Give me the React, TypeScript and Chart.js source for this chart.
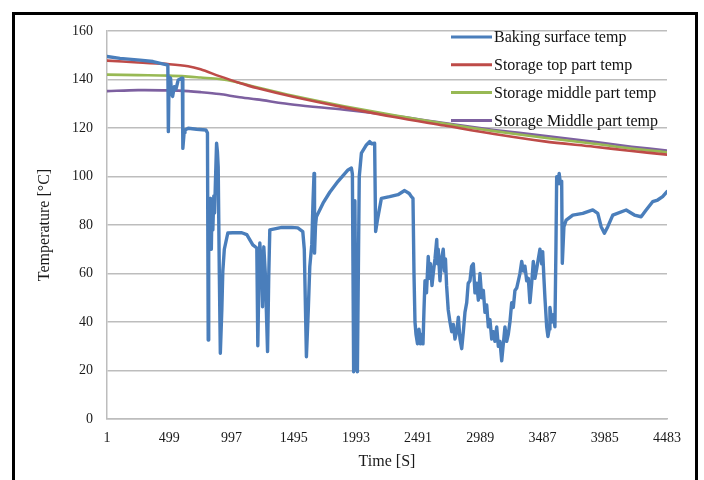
import React, { useEffect, useRef } from "react";
import { Chart, registerables } from "chart.js";

Chart.register(...registerables);

// ---------- DATA ----------
const xTickValues = [1, 499, 997, 1495, 1993, 2491, 2989, 3487, 3985, 4483];
const yTickMax = 160;
const yTickStep = 20;

const seriesLabels = [
  "Baking surface temp",
  "Storage top part temp",
  "Storage middle part temp",
  "Storage Middle part temp",
];

// [time (s), temperature (°C)]
const bakingSamples: [number, number][] = [
  [1, 149.5], [105, 148.7], [265, 148], [369, 147.4], [481, 146], [488, 146], [492, 118.5], [498, 141],
  [510, 140.5], [518, 134], [526, 133], [540, 137], [553, 136], [571, 139.8], [598, 140.5], [604, 140.5],
  [608, 111.6], [618, 118], [625, 119.2], [651, 119.9], [718, 119.5], [792, 119.2], [805, 118], [811, 32.6],
  [815, 70], [820, 88], [824, 72], [830, 91], [836, 70], [842, 90], [848, 78], [856, 92], [862, 85],
  [870, 100], [878, 113.7], [885, 110], [891, 104], [900, 60], [908, 27.1], [920, 45], [928, 61], [940, 70],
  [968, 76.7], [1006, 76.8], [1080, 76.8], [1120, 76], [1168, 71.8], [1200, 70.5], [1208, 30.2], [1216, 55],
  [1224, 72.6], [1240, 60], [1246, 46.3], [1256, 71], [1268, 60], [1286, 27.8], [1296, 60], [1304, 78],
  [1400, 79], [1480, 79], [1528, 78.8], [1568, 77.3], [1580, 70], [1597, 25.7], [1612, 45], [1624, 62.8],
  [1640, 72], [1650, 90], [1658, 101.3], [1662, 68.4], [1670, 80], [1677, 83.4], [1730, 89], [1784, 93.5],
  [1850, 98], [1930, 102.7], [1957, 103.5], [1965, 101], [1975, 19.5], [1985, 90], [1995, 21], [2005, 19.5],
  [2020, 100], [2037, 109.6], [2077, 113], [2103, 114.4], [2120, 113.5], [2143, 113.7], [2151, 77.3],
  [2165, 82], [2197, 91], [2263, 91.7], [2330, 92.5], [2383, 94.2], [2420, 93], [2437, 91.7], [2450, 91],
  [2458, 60], [2466, 40], [2474, 35], [2486, 31], [2498, 37], [2510, 31], [2522, 35], [2530, 31], [2538, 45],
  [2546, 57], [2558, 52], [2572, 67], [2582, 58], [2590, 64], [2602, 55], [2612, 60], [2626, 66], [2640, 74],
  [2646, 64], [2652, 70], [2666, 57], [2678, 66], [2692, 70], [2702, 61], [2710, 66], [2719, 55], [2732, 45],
  [2746, 40], [2760, 36], [2773, 39], [2786, 33], [2800, 36], [2813, 42], [2826, 33], [2840, 29], [2853, 36],
  [2866, 44], [2880, 48], [2892, 56], [2906, 57], [2919, 63], [2933, 64], [2946, 52], [2960, 56], [2973, 49],
  [2986, 60], [3000, 50], [3013, 53], [3026, 44], [3040, 47], [3053, 38], [3066, 41], [3080, 33], [3093, 36],
  [3106, 32], [3120, 38], [3133, 30], [3146, 32], [3160, 24], [3173, 31], [3186, 38], [3200, 32], [3213, 35],
  [3226, 40], [3240, 48], [3253, 46], [3266, 53], [3280, 54], [3293, 57], [3306, 60], [3320, 65], [3333, 61],
  [3346, 63], [3360, 57], [3373, 58], [3386, 48], [3400, 56], [3413, 65], [3426, 58], [3440, 62], [3453, 66],
  [3466, 70], [3480, 64], [3488, 69], [3498, 58], [3506, 50], [3520, 38], [3530, 34], [3540, 37], [3546, 46],
  [3560, 40], [3573, 43], [3586, 38], [3594, 70], [3600, 99.9], [3610, 97], [3620, 101.3], [3630, 97],
  [3640, 98], [3645, 64.2], [3658, 79.3], [3676, 82], [3729, 84.1], [3809, 84.8], [3889, 86.2], [3929, 84.8],
  [3956, 79.3], [3982, 76.6], [4009, 79.3], [4049, 84.1], [4156, 86.2], [4222, 84.1], [4276, 83.4],
  [4316, 86.2], [4368, 89.6], [4408, 90.3], [4448, 91.7], [4483, 93.8],
];

const storageTime = [1, 250, 500, 650, 750, 900, 1050, 1200, 1500, 1900, 2300, 2700, 3100, 3500, 3900, 4200, 4483];
const storageTopTemp = [147.8, 147, 146.3, 145.5, 144.2, 141.4, 138.8, 136.5, 132.8, 128.5, 124.5, 121, 117.5, 114.5, 112.3, 110.5, 109];
const storageMiddleTemp = [142, 141.8, 141.6, 141.2, 140.8, 140.2, 138.8, 136.8, 133.2, 129, 125.2, 121.8, 118.7, 116, 113.5, 111.5, 110];
const storageMiddle2Temp = [135.2, 135.6, 135.5, 135.2, 134.8, 134, 132.8, 131.8, 129.6, 127.5, 125, 122, 119.2, 116.8, 114.3, 112.3, 110.7];

const colors = ["#4a7ebb", "#be4b48", "#98b954", "#7d60a0"];

const toPoints = (xs: number[], ys: number[]) => xs.map((x, i) => ({ x, y: ys[i] }));
const pairsToPoints = (pairs: [number, number][]) => pairs.map(([x, y]) => ({ x, y }));

const SERIF = '"Liberation Serif", "DejaVu Serif", serif';

const insideLegend = {
  id: "insideLegend",
  afterDatasetsDraw(chart: any) {
    const ctx = chart.ctx;
    const area = chart.chartArea;
    const x0 = area.right - 216;
    const y0 = area.top + 6;
    const step = 27.8;
    ctx.save();
    ctx.font = `16px ${SERIF}`;
    ctx.textBaseline = "middle";
    ctx.textAlign = "left";
    chart.data.datasets.forEach((ds: any, i: number) => {
      const y = y0 + i * step;
      ctx.strokeStyle = ds.borderColor;
      ctx.lineWidth = 3;
      ctx.beginPath();
      ctx.moveTo(x0, y);
      ctx.lineTo(x0 + 41, y);
      ctx.stroke();
      ctx.fillStyle = "#111";
      ctx.fillText(ds.label, x0 + 43, y + 1);
    });
    ctx.restore();
  },
};

const lineStyle = { pointRadius: 0, borderJoinStyle: "round" as const, borderCapStyle: "round" as const };

export default function App() {
  const ref = useRef<HTMLCanvasElement | null>(null);

  useEffect(() => {
    if (!ref.current) return;
    const chart = new Chart(ref.current, {
      type: "line",
      data: {
        datasets: [
          { label: seriesLabels[0], data: pairsToPoints(bakingSamples), borderColor: colors[0], borderWidth: 3.4, tension: 0, ...lineStyle },
          { label: seriesLabels[1], data: toPoints(storageTime, storageTopTemp), borderColor: colors[1], borderWidth: 2.6, tension: 0.3, ...lineStyle },
          { label: seriesLabels[2], data: toPoints(storageTime, storageMiddleTemp), borderColor: colors[2], borderWidth: 2.6, tension: 0.3, ...lineStyle },
          { label: seriesLabels[3], data: toPoints(storageTime, storageMiddle2Temp), borderColor: colors[3], borderWidth: 2.6, tension: 0.3, ...lineStyle },
        ],
      },
      options: {
        animation: false,
        responsive: false,
        devicePixelRatio: 1,
        layout: { padding: { top: 31, right: 37, left: 0, bottom: 0 } },
        plugins: { legend: { display: false }, tooltip: { enabled: false } },
        scales: {
          x: {
            type: "linear",
            min: xTickValues[0],
            max: xTickValues[xTickValues.length - 1],
            afterBuildTicks: (scale: any) => {
              scale.ticks = xTickValues.map((v) => ({ value: v }));
            },
            afterFit: (scale: any) => {
              scale.height = 61;
            },
            ticks: {
              autoSkip: false,
              maxRotation: 0,
              padding: 11,
              color: "#1a1a1a",
              font: { family: SERIF, size: 14 },
              callback: (v: any) => String(v),
            },
            grid: { display: false, drawTicks: false },
            border: { display: true, color: "#bdbdbd", width: 1.5 },
            title: {
              display: true,
              text: "Time [S]",
              color: "#1a1a1a",
              font: { family: SERIF, size: 16 },
              padding: { top: 0, bottom: 9 },
            },
          },
          y: {
            min: 0,
            max: yTickMax,
            afterFit: (scale: any) => {
              scale.width = 107;
            },
            ticks: {
              stepSize: yTickStep,
              padding: 14,
              color: "#1a1a1a",
              font: { family: SERIF, size: 14 },
            },
            grid: { color: "#bdbdbd", lineWidth: 1.5, drawTicks: false },
            border: { display: true, color: "#bdbdbd", width: 1.5 },
            title: {
              display: true,
              text: "Temperature [°C]",
              color: "#1a1a1a",
              font: { family: SERIF, size: 16 },
              padding: { top: 35, bottom: 0 },
            },
          },
        },
      },
      plugins: [insideLegend],
    });
    return () => chart.destroy();
  }, []);

  return (
    <div style={{ position: "fixed", left: 0, top: 0, width: 704, height: 480, background: "#fff", overflow: "hidden" }}>
      <canvas ref={ref} width={704} height={480} style={{ position: "absolute", left: 0, top: 0, width: 704, height: 480 }} />
      <div
        style={{
          position: "absolute",
          left: 12,
          top: 12,
          width: 686,
          height: 520,
          boxSizing: "border-box",
          border: "3px solid #000",
          pointerEvents: "none",
        }}
      />
    </div>
  );
}
